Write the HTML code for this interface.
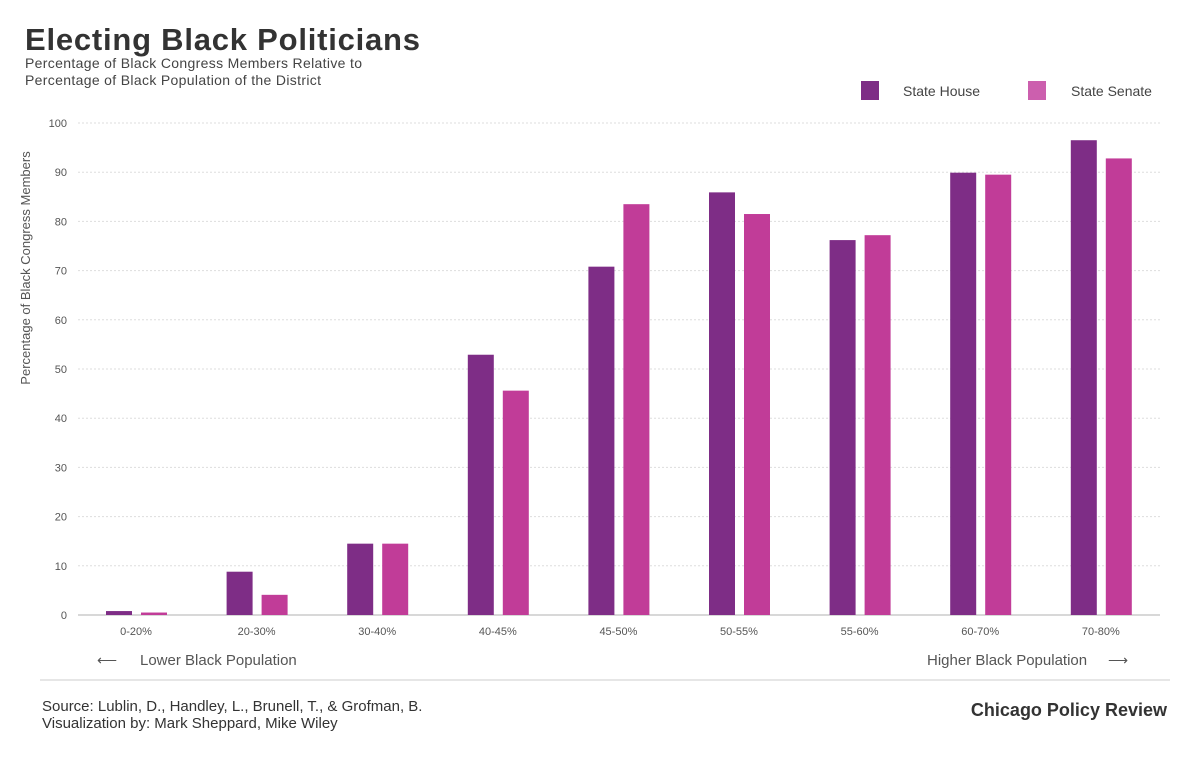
<!DOCTYPE html>
<html><head><meta charset="utf-8"><style>
body{margin:0;background:#fff;width:1200px;height:753px;overflow:hidden;font-family:"Liberation Sans",sans-serif}
</style></head><body>
<svg id="c" width="1200" height="753" xmlns="http://www.w3.org/2000/svg">
<text x="25" y="50" font-size="31" font-weight="bold" fill="#333" textLength="395">Electing Black Politicians</text>
<text x="25" y="68" font-size="14" fill="#444" textLength="337">Percentage of Black Congress Members Relative to</text>
<text x="25" y="85" font-size="14" fill="#444" textLength="296">Percentage of Black Population of the District</text>
<rect x="861" y="81" width="18" height="19" fill="#7e2d86"/>
<text x="903" y="96" font-size="14" fill="#444">State House</text>
<rect x="1028" y="81" width="18" height="19" fill="#cc5fae"/>
<text x="1071" y="96" font-size="14" fill="#444">State Senate</text>
<text transform="translate(30,268) rotate(-90)" text-anchor="middle" font-size="13" fill="#555">Percentage of Black Congress Members</text>
<g id="grid"></g><g id="bars"></g><g id="xl"></g>
<text x="97" y="665" font-size="14" fill="#555">⟵</text>
<text x="140" y="665" font-size="15" fill="#555">Lower Black Population</text>
<text x="927" y="665" font-size="15" fill="#555">Higher Black Population</text>
<text x="1108" y="665" font-size="14" fill="#555">⟶</text>
<line x1="40" y1="680" x2="1170" y2="680" stroke="#ddd" stroke-width="1.5"/>
<text x="42" y="711" font-size="15" fill="#333">Source: Lublin, D., Handley, L., Brunell, T., &amp; Grofman, B.</text>
<text x="42" y="728" font-size="15" fill="#333">Visualization by: Mark Sheppard, Mike Wiley</text>
<text x="1167" y="716" text-anchor="end" font-size="18" font-weight="bold" fill="#333">Chicago Policy Review</text>
</svg>
<script>
const categories=["0-20%","20-30%","30-40%","40-45%","45-50%","50-55%","55-60%","60-70%","70-80%"];
const house=[0.8,8.8,14.5,52.9,70.8,85.9,76.2,89.9,96.5];
const senate=[0.5,4.1,14.5,45.6,83.5,81.5,77.2,89.5,92.8];
const yTicks=[0,10,20,30,40,50,60,70,80,90,100];
const NS="http://www.w3.org/2000/svg";
const y=v=>615-v*4.92;
const x=i=>120+i*120.6;
function mk(t,a,p){const e=document.createElementNS(NS,t);for(const k in a)e.setAttribute(k,a[k]);document.getElementById(p).appendChild(e);return e;}
yTicks.forEach(t=>{
 const l=mk('line',{x1:78,x2:1160,y1:y(t),y2:y(t),stroke:t===0?'#ccc':'#ddd','stroke-width':t===0?1.5:1,'stroke-dasharray':t===0?'':'2,2'},'grid');
 
 
 const s=mk('text',{x:67,y:y(t)+4,'text-anchor':'end','font-size':11,fill:'#555'},'grid');s.textContent=t;
 
 
});
categories.forEach((c,i)=>{
 const a=mk('rect',{x:x(i)-14,y:y(house[i]),width:26,height:house[i]*4.92,fill:'#7e2d86'},'bars');
 
 
 const b=mk('rect',{x:x(i)+21,y:y(senate[i]),width:26,height:senate[i]*4.92,fill:'#c13c98'},'bars');
 
 
 const t=mk('text',{x:x(i)+16,y:635,'text-anchor':'middle','font-size':11,fill:'#555'},'xl');t.textContent=c;
 
 
});
</script>
</body></html>
